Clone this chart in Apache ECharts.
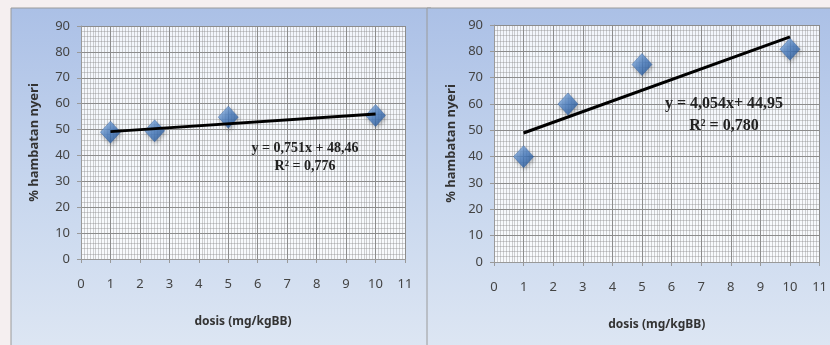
<!DOCTYPE html>
<html>
<head>
<meta charset="utf-8">
<script src="https://cdn.jsdelivr.net/npm/echarts@6/dist/echarts.min.js"></script>
<style>
  html, body { margin: 0; padding: 0; background: #f5eff0; }
  #main { width: 830px; height: 345px; }
</style>
</head>
<body>
<div id="main"></div>
<script>
// dosis values (mg/kgBB)
var dosis = [1, 2.5, 5, 10];
// % hambatan nyeri, left and right charts
var hambatanA = [49, 49.5, 54.8, 55.4];
var hambatanB = [40, 60, 75, 80.8];
// trend line end points
var trendA = [[1, 49.2], [10, 56.0]];
var trendB = [[1, 49.0], [10, 85.5]];
var eqA = ['y = 0,751x + 48,46', 'R² = 0,776'];
var eqB = ['y = 4,054x+ 44,95', 'R² = 0,780'];

var chartDom = document.getElementById('main');
var myChart = echarts.init(chartDom);

function pts(xs, ys) {
  return xs.map(function (x, i) { return [x, ys[i]]; });
}

var diamond = new echarts.graphic.LinearGradient(0, 0, 1, 1, [
  { offset: 0, color: '#9cc2ee' },
  { offset: 0.5, color: '#4a7fc4' },
  { offset: 1, color: '#1f4f8f' }
]);

function xAx(gi) {
  return {
    gridIndex: gi, type: 'value', min: 0, max: 11, interval: 1,
    name: 'dosis (mg/kgBB)', nameLocation: 'middle', nameGap: 57,
    nameTextStyle: { fontFamily: 'Noto Sans', fontSize: 12, fontWeight: 'bold', color: '#333' },
    axisLine: { show: true, lineStyle: { color: '#999' } },
    axisTick: { show: true, length: 4, lineStyle: { color: '#999' } },
    axisLabel: { margin: 19, fontFamily: 'Noto Sans', fontSize: 13, color: '#444' },
    splitLine: { show: true, lineStyle: { color: '#8c8c8c', width: 1 } },
    minorTick: { show: false, splitNumber: 10 },
    minorSplitLine: { show: true, lineStyle: { color: 'rgba(140,140,140,0.4)', width: 1 } }
  };
}
function yAx(gi, gap) {
  return {
    gridIndex: gi, type: 'value', min: 0, max: 90, interval: 10,
    name: '% hambatan nyeri', nameLocation: 'middle', nameGap: gap,
    nameTextStyle: { fontFamily: 'Noto Sans', fontSize: 13, fontWeight: 'bold', color: '#333' },
    axisLine: { show: true, lineStyle: { color: '#999' } },
    axisTick: { show: true, length: 4, lineStyle: { color: '#999' } },
    axisLabel: { margin: 11, fontFamily: 'Noto Sans', fontSize: 13, color: '#444' },
    splitLine: { show: true, lineStyle: { color: '#8c8c8c', width: 1 } },
    minorTick: { show: false, splitNumber: 5 },
    minorSplitLine: { show: true, lineStyle: { color: 'rgba(140,140,140,0.4)', width: 1 } }
  };
}
function scat(gi, data) {
  return {
    type: 'scatter', xAxisIndex: gi, yAxisIndex: gi, data: data,
    symbol: 'diamond', symbolSize: [20, 22], z: 4,
    itemStyle: {
      color: diamond, borderColor: '#2a5a9a', borderWidth: 0.5,
      shadowBlur: 4, shadowColor: 'rgba(0,0,0,0.35)', shadowOffsetX: 1, shadowOffsetY: 2
    }
  };
}
function trend(gi, data) {
  return {
    type: 'line', xAxisIndex: gi, yAxisIndex: gi, data: data,
    symbol: 'none', z: 5, lineStyle: { color: '#000', width: 3 }
  };
}
function panelBg(x, w) {
  return {
    type: 'rect', shape: { x: x, y: 8, width: w, height: 340 }, z: -10,
    style: {
      fill: new echarts.graphic.LinearGradient(0, 0, 0, 1, [
        { offset: 0, color: '#abc0e6' },
        { offset: 0.55, color: '#c8d7ee' },
        { offset: 1, color: '#dde6f3' }
      ]),
      stroke: '#9a9a9a', lineWidth: 1
    }
  };
}
function eqText(cx, y1, y2, lines, size) {
  var st = { fontFamily: 'Liberation Serif', fontWeight: 'bold', fill: '#222', align: 'center', verticalAlign: 'middle' };
  return [
    { type: 'text', x: cx, y: y1, z: 20, style: Object.assign({ text: lines[0], fontSize: size }, st) },
    { type: 'text', x: cx, y: y2, z: 20, style: Object.assign({ text: lines[1], fontSize: size }, st) }
  ];
}

var option = {
  animation: false,
  backgroundColor: '#f5eff0',
  grid: [
    { left: 81, top: 26, width: 324, height: 233, show: true, backgroundColor: 'rgba(255,255,255,0.85)', borderWidth: 0 },
    { left: 494, top: 25, width: 327, height: 237, show: true, backgroundColor: 'rgba(255,255,255,0.85)', borderWidth: 0 }
  ],
  xAxis: [xAx(0), xAx(1)],
  yAxis: [yAx(0, 40), yAx(1, 36)],
  graphic: [panelBg(11, 420), panelBg(427, 410)]
    .concat(eqText(305, 148, 166, eqA, 14))
    .concat(eqText(724, 104, 126, eqB, 16)),
  series: [
    trend(0, trendA), scat(0, pts(dosis, hambatanA)),
    trend(1, trendB), scat(1, pts(dosis, hambatanB))
  ]
};

option && myChart.setOption(option);
</script>
</body>
</html>
